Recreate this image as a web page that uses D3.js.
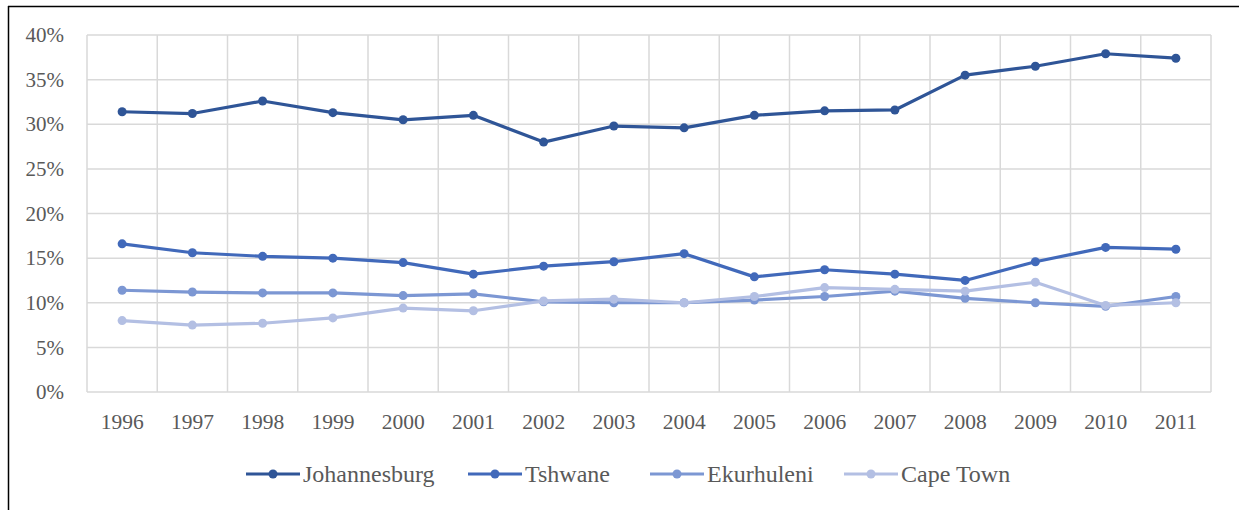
<!DOCTYPE html>
<html>
<head>
<meta charset="utf-8">
<script src="https://cdn.jsdelivr.net/npm/d3@7"></script>
<style>
  html, body { margin: 0; padding: 0; background: #fff; }
  svg { display: block; }
  text { font-family: "Liberation Serif", "DejaVu Serif", serif; fill: #595959; }
</style>
</head>
<body>
<svg id="chart" width="1239" height="510"></svg>
<script>
const years = ["1996","1997","1998","1999","2000","2001","2002","2003","2004","2005","2006","2007","2008","2009","2010","2011"];
const seriesNames = ["Johannesburg", "Tshwane", "Ekurhuleni", "Cape Town"];
const johannesburg = [31.4, 31.2, 32.6, 31.3, 30.5, 31.0, 28.0, 29.8, 29.6, 31.0, 31.5, 31.6, 35.5, 36.5, 37.9, 37.4];
const tshwane      = [16.6, 15.6, 15.2, 15.0, 14.5, 13.2, 14.1, 14.6, 15.5, 12.9, 13.7, 13.2, 12.5, 14.6, 16.2, 16.0];
const ekurhuleni   = [11.4, 11.2, 11.1, 11.1, 10.8, 11.0, 10.1, 10.0, 10.0, 10.3, 10.7, 11.3, 10.5, 10.0, 9.6, 10.7];
const capeTown     = [8.0, 7.5, 7.7, 8.3, 9.4, 9.1, 10.2, 10.4, 10.0, 10.7, 11.7, 11.5, 11.3, 12.3, 9.7, 10.0];
const yTicks = [0, 5, 10, 15, 20, 25, 30, 35, 40];
const colors = ["#2F5597", "#4169BA", "#7C97D3", "#B3BFE3"];

const allSeries = [johannesburg, tshwane, ekurhuleni, capeTown];

const svg = d3.select("#chart");

// outer frame (top and left edges visible)
svg.append("line").attr("x1", 8).attr("x2", 1239).attr("y1", 6.5).attr("y2", 6.5).attr("stroke", "#000").attr("stroke-width", 1.5);
svg.append("line").attr("x1", 8.5).attr("x2", 8.5).attr("y1", 6).attr("y2", 510).attr("stroke", "#000").attr("stroke-width", 1.5);

const pLeft = 87, pRight = 1211, pTop = 35, pBottom = 392;

const x = d3.scaleBand().domain(years).range([pLeft, pRight]).paddingInner(0).paddingOuter(0);
const y = d3.scaleLinear().domain([0, 40]).range([pBottom, pTop]);
const cx = d => x(d) + x.bandwidth() / 2;

const grid = svg.append("g");
grid.selectAll("line.h").data(yTicks).join("line")
  .attr("x1", pLeft).attr("x2", pRight)
  .attr("y1", d => y(d)).attr("y2", d => y(d))
  .attr("stroke", "#d9d9d9").attr("stroke-width", 1.5);
const bounds = years.map(d => x(d)).concat([pRight]);
grid.selectAll("line.v").data(bounds).join("line")
  .attr("x1", d => d).attr("x2", d => d)
  .attr("y1", pTop).attr("y2", pBottom)
  .attr("stroke", "#d9d9d9").attr("stroke-width", 1.5);

// y axis labels
const yAxis = d3.axisLeft(y).tickValues(yTicks).tickFormat(d => d + "%").tickSize(0).tickPadding(0);
const yg = svg.append("g").attr("transform", `translate(64,0)`).call(yAxis);
yg.select(".domain").remove();
yg.selectAll("text").style("font-size", "21px").style("font-family", "'Liberation Serif', serif").attr("fill", "#595959").attr("dy", "0.32em");

// x axis labels
const xAxis = d3.axisBottom(x).tickSize(0).tickPadding(0);
const xg = svg.append("g").attr("transform", `translate(0,429)`).call(xAxis);
xg.select(".domain").remove();
xg.selectAll("text").style("font-size", "21.5px").style("font-family", "'Liberation Serif', serif").attr("fill", "#595959").attr("dy", "0");

// lines
const line = d3.line().x((d, i) => cx(years[i])).y(d => y(d));
const plot = svg.append("g");
allSeries.forEach((s, k) => {
  const g = plot.append("g");
  g.append("path").datum(s).attr("d", line).attr("fill", "none")
    .attr("stroke", colors[k]).attr("stroke-width", 3.2).attr("stroke-linejoin", "round");
  g.selectAll("circle").data(s).join("circle")
    .attr("cx", (d, i) => cx(years[i])).attr("cy", d => y(d)).attr("r", 4.5)
    .attr("fill", colors[k]);
});

// legend
const legendItems = [
  { name: seriesNames[0], x0: 246 },
  { name: seriesNames[1], x0: 468 },
  { name: seriesNames[2], x0: 650 },
  { name: seriesNames[3], x0: 844 }
];
const ly = 474;
const lg = svg.append("g");
legendItems.forEach((it, k) => {
  lg.append("line").attr("x1", it.x0).attr("x2", it.x0 + 54).attr("y1", ly).attr("y2", ly)
    .attr("stroke", colors[k]).attr("stroke-width", 3.2);
  lg.append("circle").attr("cx", it.x0 + 27).attr("cy", ly).attr("r", 4.5).attr("fill", colors[k]);
  lg.append("text").attr("x", it.x0 + 57).attr("y", ly).attr("dy", "0.34em")
    .style("font-size", "24px").text(it.name);
});
</script>
</body>
</html>
